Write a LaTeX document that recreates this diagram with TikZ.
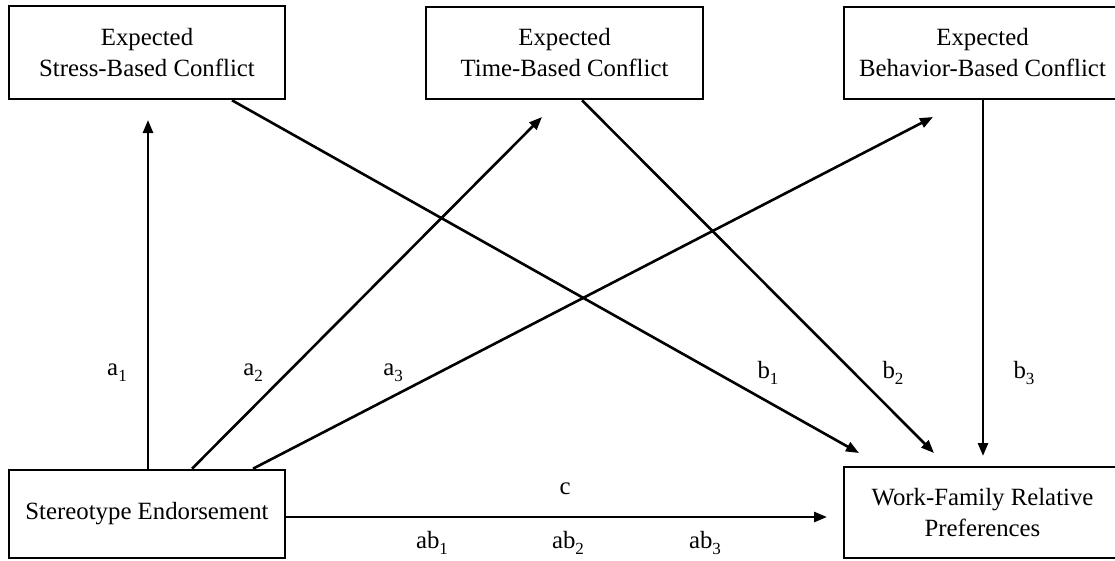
\documentclass[tikz,border=0pt]{standalone}
\usepackage{fontspec}
\setmainfont{Liberation Serif}
\usetikzlibrary{arrows.meta}
\tikzset{
  boxnode/.style={draw, line width=2.6pt, align=center, inner sep=0pt,
    font=\fontsize{24.8}{31}\selectfont},
  conn/.style={line width=2.6pt, -{Triangle[length=13pt,width=10pt]}},
  lbl/.style={font=\fontsize{24.8}{29}\selectfont, inner sep=0pt}
}
\newcommand{\sbs}[1]{\raisebox{-0.25em}{\fontsize{17}{17}\selectfont #1}}
\begin{document}
\begin{tikzpicture}[x=1pt,y=-1pt]
\useasboundingbox (0,0) rectangle (1115,560);
\begin{scope}
\clip (0,0) rectangle (1115,560);
\node[boxnode, minimum width=276pt, minimum height=93pt] (stress) at (147,52.5) {Expected\\Stress-Based Conflict};
\node[boxnode, minimum width=277pt, minimum height=92pt] (time) at (564.5,53) {Expected\\Time-Based Conflict};
\node[boxnode, minimum width=277pt, minimum height=92pt] (beh) at (982.5,53) {Expected\\Behavior-Based Conflict};
\node[boxnode, minimum width=276pt, minimum height=88pt] (stereo) at (147,514) {Stereotype Endorsement};
\node[boxnode, minimum width=277pt, minimum height=91pt] (wf) at (982.5,512.5) {Work-Family Relative\\Preferences};

% start points on box borders
\coordinate (sa1) at (stereo.north -| 148,0);
\coordinate (sa2) at (stereo.north -| 192,0);
\coordinate (sa3) at (stereo.north -| 253,0);
\coordinate (sb1) at (stress.south -| 232,0);
\coordinate (sb2) at (time.south -| 582,0);
\coordinate (sb3) at (beh.south -| 983,0);
\coordinate (sc) at (stereo.east |- 0,517);
% arrow tips
\coordinate (ta1) at (148,120);
\coordinate (ta2) at (542,117);
\coordinate (ta3) at (933,117);
\coordinate (tb1) at (859,453);
\coordinate (tb2) at (934,453);
\coordinate (tb3) at (983,456);
\coordinate (tc) at (827,517);

\draw[conn] (sa1) -- (ta1);
\draw[conn] (sa2) -- (ta2);
\draw[conn] (sa3) -- (ta3);
\draw[conn] (sb1) -- (tb1);
\draw[conn] (sb2) -- (tb2);
\draw[conn] (sb3) -- (tb3);
\draw[conn] (sc) -- (tc);

\node[lbl] (la1) at (117,373) {a\sbs{1}};
\node[lbl] (la2) at (253,373) {a\sbs{2}};
\node[lbl] (la3) at (393,373) {a\sbs{3}};
\node[lbl] (lb1) at (768,373) {b\sbs{1}};
\node[lbl] (lb2) at (893,373) {b\sbs{2}};
\node[lbl] (lb3) at (1024,373) {b\sbs{3}};
\node[lbl] (lc) at (565,489) {c};
\node[lbl] (lab1) at (432,543) {ab\sbs{1}};
\node[lbl] (lab2) at (568,543) {ab\sbs{2}};
\node[lbl] (lab3) at (705,543) {ab\sbs{3}};
\end{scope}
\end{tikzpicture}
\end{document}
